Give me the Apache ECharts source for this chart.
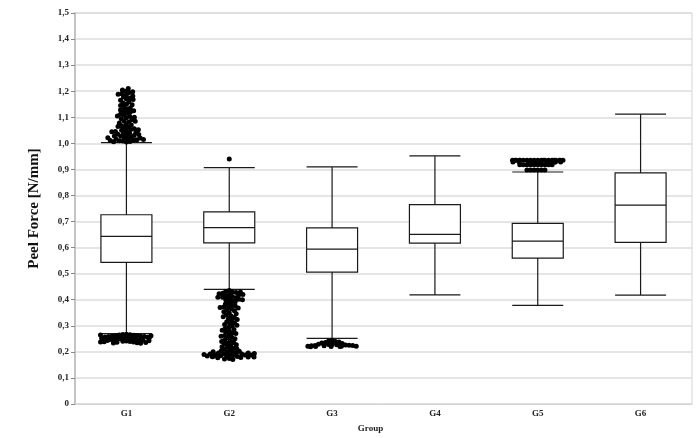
<!DOCTYPE html>
<html lang="en">
<head>
	<meta charset="UTF-8">
	<title>Peel Force</title>
	<style>
		html, body { margin: 0; padding: 0; background: #fff; }
		#chart_box { width: 698px; height: 438px; }
	</style>
	<script type="text/javascript" src="https://cdn.jsdelivr.net/npm/echarts@6.0.0/dist/echarts.min.js"></script>
</head>
<body>
	<div id="chart_box"></div>
	<script type="text/javascript">
	// groups on the x axis
	var groups = ['G1', 'G2', 'G3', 'G4', 'G5', 'G6'];

	// [lower whisker, Q1, median, Q3, upper whisker]
	var g1Box = [0.270, 0.543, 0.643, 0.726, 1.003];
	var g2Box = [0.440, 0.618, 0.677, 0.737, 0.907];
	var g3Box = [0.252, 0.506, 0.594, 0.676, 0.910];
	var g4Box = [0.419, 0.617, 0.651, 0.765, 0.952];
	var g5Box = [0.378, 0.560, 0.625, 0.693, 0.890];
	var g6Box = [0.418, 0.620, 0.763, 0.887, 1.112];

	// outliers per group
	var g1Out = [
		1.005, 1.007, 1.009, 1.010, 1.012, 1.014, 1.016, 1.018, 1.020, 1.022, 1.025, 1.027,
		1.030, 1.032, 1.035, 1.038, 1.040, 1.042, 1.045, 1.048, 1.050, 1.053, 1.056, 1.060,
		1.063, 1.067, 1.070, 1.074, 1.078, 1.082, 1.086, 1.090, 1.094, 1.098, 1.100, 1.104,
		1.108, 1.112, 1.116, 1.120, 1.124, 1.128, 1.132, 1.136, 1.140, 1.145, 1.150, 1.155,
		1.160, 1.165, 1.170, 1.174, 1.178, 1.182, 1.186, 1.190, 1.195, 1.200, 1.205, 1.210,
		1.006, 1.011, 1.015, 1.021, 1.028, 1.034, 1.044, 1.052, 1.065, 1.085, 1.105, 1.125,
		1.148, 1.168, 1.188, 1.198,
		0.268, 0.267, 0.266, 0.265, 0.264, 0.263, 0.262, 0.261, 0.260, 0.259, 0.258, 0.257,
		0.256, 0.255, 0.254, 0.253, 0.252, 0.251, 0.250, 0.249, 0.248, 0.247, 0.246, 0.245,
		0.244, 0.243, 0.242, 0.241, 0.240, 0.239, 0.238, 0.237, 0.236, 0.235, 0.234, 0.233,
		0.262, 0.258, 0.254, 0.250, 0.246, 0.242, 0.238, 0.265, 0.255, 0.245
	];
	var g2Out = [
		0.940,
		0.435, 0.432, 0.430, 0.428, 0.425, 0.423, 0.420, 0.418, 0.415, 0.412, 0.410, 0.408,
		0.405, 0.402, 0.400, 0.396, 0.392, 0.388, 0.384, 0.380, 0.430, 0.420, 0.410, 0.400,
		0.376, 0.374, 0.372, 0.370, 0.368, 0.365, 0.362, 0.358, 0.354, 0.350, 0.346, 0.342,
		0.338, 0.335, 0.332, 0.328, 0.324, 0.320, 0.316, 0.312, 0.308, 0.305, 0.302, 0.298,
		0.294, 0.290, 0.286, 0.283, 0.280, 0.276, 0.273, 0.270, 0.266, 0.263, 0.260, 0.256,
		0.253, 0.250, 0.246, 0.243, 0.240, 0.236, 0.233, 0.230, 0.227, 0.224, 0.220, 0.218,
		0.214, 0.212,
		0.210, 0.207, 0.204, 0.202, 0.200, 0.198, 0.196, 0.195, 0.193, 0.192, 0.190, 0.189,
		0.188, 0.186, 0.185, 0.184, 0.182, 0.181, 0.180, 0.178, 0.177, 0.175, 0.173, 0.171,
		0.200, 0.196, 0.192, 0.188, 0.184, 0.180, 0.190, 0.186, 0.182, 0.194
	];
	var g3Out = [
		0.245, 0.242, 0.240, 0.238, 0.236, 0.234, 0.232, 0.230, 0.229, 0.228, 0.227, 0.226,
		0.225, 0.224, 0.224, 0.223, 0.223, 0.222, 0.222, 0.222, 0.221, 0.221, 0.221, 0.220
	];
	var g5Out = [
		0.935, 0.935, 0.935, 0.935, 0.935, 0.935, 0.935, 0.935, 0.935, 0.935, 0.935,
		0.935, 0.935, 0.935, 0.935, 0.935, 0.935, 0.935, 0.935, 0.935,
		0.928, 0.928, 0.928, 0.928, 0.928, 0.928, 0.928, 0.928, 0.928, 0.928,
		0.928, 0.928, 0.928, 0.928, 0.928, 0.928,
		0.918, 0.918, 0.918, 0.918, 0.918, 0.918, 0.918, 0.918, 0.918, 0.918,
		0.898, 0.898, 0.898, 0.898, 0.898, 0.898
	];
	var outliers = [g1Out, g2Out, g3Out, [], g5Out, []];

	// y axis ticks
	var yMin = 0, yMax = 1.5, yStep = 0.1;

	var boxData = [g1Box, g2Box, g3Box, g4Box, g5Box, g6Box];
	var dotData = [];
	for (var i = 0; i < outliers.length; i++) {
		for (var j = 0; j < outliers[i].length; j++) {
			dotData.push([groups[i], outliers[i][j]]);
		}
	}

	var chart = echarts.init(document.getElementById('chart_box'));
	var serif = '"Liberation Serif", "Times New Roman", serif';
	var option = {
		animation: false,
		grid: {
			left: 75, right: 6, top: 13, bottom: 31,
			show: true,
			borderColor: '#d4d4d4',
			borderWidth: 1
		},
		xAxis: {
			type: 'category',
			data: groups,
			jitter: 52,
			jitterOverlap: false,
			jitterMargin: -1.4,
			name: 'Group',
			nameLocation: 'middle',
			nameGap: 20,
			nameTextStyle: { fontFamily: serif, fontWeight: 'bold', fontSize: 9, color: '#222', padding: [0, 26, 0, 0] },
			axisLine: { lineStyle: { color: '#d4d4d4', width: 1 } },
			axisTick: { show: false },
			axisLabel: { fontFamily: serif, fontWeight: 'bold', fontSize: 9, color: '#222', margin: 5 },
			splitLine: { show: false }
		},
		yAxis: {
			type: 'value',
			min: yMin,
			max: yMax,
			interval: yStep,
			name: 'Peel Force [N/mm]',
			nameLocation: 'middle',
			nameGap: 33,
			nameTextStyle: { fontFamily: serif, fontWeight: 'bold', fontSize: 15, color: '#111' },
			axisLine: { show: true, lineStyle: { color: '#c4c4c4', width: 2 } },
			axisTick: { show: true, length: 4, lineStyle: { color: '#888' } },
			axisLabel: {
				fontFamily: serif, fontWeight: 'bold', fontSize: 9, color: '#222', margin: 6,
				formatter: function (v) {
					return v === 0 ? '0' : v.toFixed(1).replace('.', ',');
				}
			},
			splitLine: { lineStyle: { color: '#dcdcdc', width: 1.5 } }
		},
		series: [
			{
				type: 'boxplot',
				data: boxData,
				boxWidth: [51, 51],
				itemStyle: { color: '#fff', borderColor: '#1a1a1a', borderWidth: 1.2 },
				z: 2
			},
			{
				type: 'scatter',
				data: dotData,
				symbolSize: 5,
				itemStyle: { color: '#000', opacity: 1 },
				z: 3
			}
		]
	};
	chart.setOption(option);
	</script>
</body>
</html>
